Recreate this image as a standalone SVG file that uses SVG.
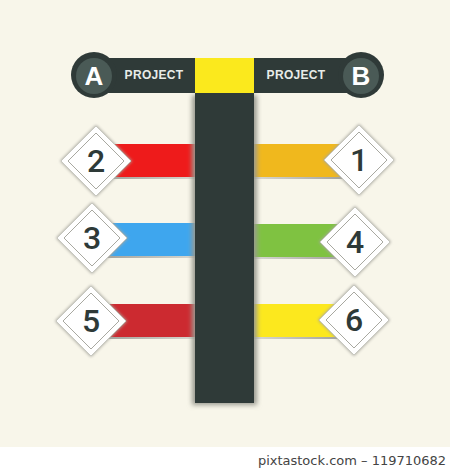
<svg xmlns="http://www.w3.org/2000/svg" width="450" height="469" viewBox="0 0 450 469">
<defs>
<filter id="sh" x="-20%" y="-20%" width="140%" height="140%"><feGaussianBlur stdDeviation="2.5"/></filter>
<filter id="dsh" x="-30%" y="-30%" width="160%" height="160%"><feGaussianBlur stdDeviation="1.5"/></filter>
<linearGradient id="bl" x1="0" x2="1"><stop offset="0" stop-color="#9a9a94"/><stop offset="1" stop-color="#d8d8d0"/></linearGradient>
<linearGradient id="br" x1="0" x2="1"><stop offset="0" stop-color="#d8d8d0"/><stop offset="1" stop-color="#9a9a94"/></linearGradient>
<g id="dia">
<path d="M0,-36 L36,0 L0,36 L-36,0 Z" fill="#a8a8a0" filter="url(#dsh)"/>
<path d="M0,-35 L35,0 L0,35 L-35,0 Z" fill="#ffffff" stroke="#c8c8c0" stroke-width="1"/>
<path d="M0,-28 L28,0 L0,28 L-28,0 Z" fill="#ffffff" stroke="#a8a8a0" stroke-width="1"/>
</g>
</defs>
<style>
.num{font-family:Roboto,"DejaVu Sans",sans-serif;font-weight:500;font-size:32px;fill:#2e3a38;text-anchor:middle}
.proj{font-family:"Liberation Sans",Arial,sans-serif;font-weight:bold;font-size:12px;fill:#e8ece8;text-anchor:middle;letter-spacing:0.3px}
.let{font-family:"Liberation Sans",Arial,sans-serif;font-weight:bold;font-size:26px;fill:#ffffff;text-anchor:middle}
.dark{fill:#2f3a38}
</style>
<rect width="450" height="469" fill="#f8f6ea"/>
<rect y="447" width="450" height="22" fill="#ffffff"/>
<text x="352" y="465" font-family="'DejaVu Sans',sans-serif" font-size="13" fill="#444444" text-anchor="middle">pixtastock.com – 119710682</text>

<g id="connectors">
<!-- row 1 -->
<rect x="96" y="176" width="99" height="3" fill="url(#bl)"/>
<rect x="96" y="144" width="99" height="33" fill="#ee1b1b"/>
<rect x="254" y="176" width="105" height="3" fill="url(#br)"/>
<rect x="254" y="144" width="105" height="33" fill="#f0b81d"/>
<!-- row 2 -->
<rect x="92" y="255" width="103" height="3" fill="url(#bl)"/>
<rect x="92" y="223" width="103" height="33" fill="#3ea6ee"/>
<rect x="254" y="256" width="101" height="3" fill="url(#br)"/>
<rect x="254" y="224" width="101" height="33" fill="#7fc241"/>
<!-- row 3 -->
<rect x="91" y="336" width="104" height="3" fill="url(#bl)"/>
<rect x="91" y="304" width="104" height="33" fill="#cc2a30"/>
<rect x="254" y="336" width="100" height="3" fill="url(#br)"/>
<rect x="254" y="304" width="100" height="33" fill="#fce81e"/>
</g>

<g id="column">
<rect x="192" y="95" width="65" height="310" fill="#9a9a90" filter="url(#sh)"/>
<rect x="195" y="93" width="59" height="310" class="dark"/>
</g>

<g id="header">
<rect x="94" y="58" width="267" height="35" class="dark"/>
<rect x="195" y="58" width="59" height="35" fill="#fbe91d"/>
</g>

<g id="projA">
<circle cx="94" cy="75" r="23" class="dark"/>
<circle cx="94" cy="76" r="18" fill="#4a5a56"/>
<text x="94" y="85" class="let">A</text>
<text x="154" y="79" class="proj">PROJECT</text>
</g>
<g id="projB">
<circle cx="361" cy="75" r="23" class="dark"/>
<circle cx="361" cy="76" r="18" fill="#4a5a56"/>
<text x="361" y="85" class="let">B</text>
<text x="296" y="79" class="proj">PROJECT</text>
</g>

<g id="n2"><use href="#dia" x="96" y="161"/><text x="96" y="172" class="num">2</text></g>
<g id="n1"><use href="#dia" x="359" y="160"/><text x="359" y="171" class="num">1</text></g>
<g id="n3"><use href="#dia" x="92" y="238"/><text x="92" y="249" class="num">3</text></g>
<g id="n4"><use href="#dia" x="355" y="242"/><text x="355" y="253" class="num">4</text></g>
<g id="n5"><use href="#dia" x="91" y="321"/><text x="91" y="332" class="num">5</text></g>
<g id="n6"><use href="#dia" x="354" y="320"/><text x="354" y="331" class="num">6</text></g>
</svg>
